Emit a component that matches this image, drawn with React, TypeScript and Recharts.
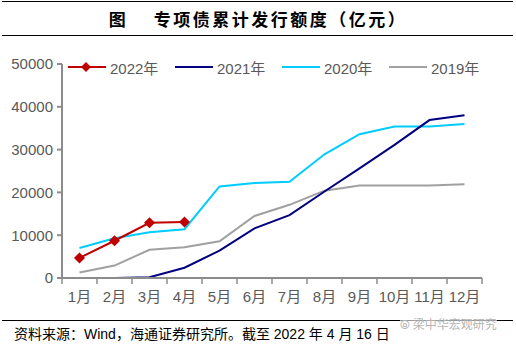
import React from 'react';
import { LineChart, Line, XAxis, YAxis } from 'recharts';

// 累计发行额度（亿元）
const months = ['1月', '2月', '3月', '4月', '5月', '6月', '7月', '8月', '9月', '10月', '11月', '12月'];
const y2022 = [4700, 8700, 12900, 13100, null, null, null, null, null, null, null, null];
const y2021 = [0, 0, 200, 2400, 6400, 11600, 14700, 20200, 25600, 31100, 36900, 38000];
const y2020 = [7000, 9300, 10700, 11400, 21400, 22200, 22500, 28900, 33600, 35400, 35400, 36000];
const y2019 = [1300, 2900, 6600, 7200, 8600, 14500, 17100, 20400, 21600, 21600, 21600, 21900];
const yTicks = [0, 10000, 20000, 30000, 40000, 50000];

const data = months.map((m, i) => ({
    month: m,
    y2022: y2022[i],
    y2021: y2021[i],
    y2020: y2020[i],
    y2019: y2019[i],
}));

const series = [
    { key: 'y2022', name: '2022年', color: '#C00000', marker: true },
    { key: 'y2021', name: '2021年', color: '#000080', marker: false },
    { key: 'y2020', name: '2020年', color: '#00CCFF', marker: false },
    { key: 'y2019', name: '2019年', color: '#A0A0A0', marker: false },
];

const AXIS = '#8c8c8c';
const LABEL = '#595959';
const FONT = '"Liberation Sans", Arial, "Noto Sans CJK SC", sans-serif';
const PLOT_BOTTOM = 278;
const BAND = 35;

const Diamond = (props: any) => {
    const { cx, cy, fill } = props;
    if (cx == null || cy == null || props.value == null) return null;
    const r = 5.5;
    return <polygon points={`${cx},${cy - r} ${cx + r},${cy} ${cx},${cy + r} ${cx - r},${cy}`} fill={fill} />;
};

const MonthTick = (props: any) => {
    const { x, payload, index } = props;
    const half = BAND / 2;
    return (
        <g>
            <line x1={x - half} x2={x - half} y1={PLOT_BOTTOM} y2={PLOT_BOTTOM + 6} stroke={AXIS} strokeWidth={1.5} />
            {index === months.length - 1 && (
                <line x1={x + half} x2={x + half} y1={PLOT_BOTTOM} y2={PLOT_BOTTOM + 6} stroke={AXIS} strokeWidth={1.5} />
            )}
            <text x={x} y={PLOT_BOTTOM + 24} textAnchor="middle" fill={LABEL} fontSize={15} fontFamily={FONT}>
                {payload.value}
            </text>
        </g>
    );
};

function LegendRow() {
    return (
        <div style={{ position: 'absolute', left: 68, top: 58, display: 'flex', fontFamily: FONT, fontSize: 15, color: LABEL }}>
            {series.map((s) => (
                <div key={s.key} style={{ display: 'flex', alignItems: 'center', width: 107, height: 18 }}>
                    <svg width={38} height={14} style={{ marginRight: 4 }}>
                        <line x1={0} x2={38} y1={7} y2={7} stroke={s.color} strokeWidth={2} />
                        {s.marker && <polygon points="18,2 23,7 18,12 13,7" fill={s.color} />}
                    </svg>
                    <span>{s.name}</span>
                </div>
            ))}
        </div>
    );
}

export default function App() {
    return (
        <div style={{ position: 'absolute', left: 0, top: 0, width: 516, height: 349, background: '#fff', overflow: 'hidden' }}>
            {/* title block */}
            <div style={{ position: 'absolute', left: 2, top: 1, width: 511, borderTop: '1.5px solid #000' }} />
            <div style={{ position: 'absolute', left: 0, top: 6, width: 516, textAlign: 'center', fontFamily: '"Noto Sans CJK SC", sans-serif', fontWeight: 700, fontSize: 17, letterSpacing: 2.5, color: '#000' }}>
                图&nbsp;&nbsp;&nbsp;&nbsp;专项债累计发行额度（亿元）
            </div>
            <div style={{ position: 'absolute', left: 2, top: 35, width: 511, borderTop: '1.5px solid #000' }} />

            <div style={{ position: 'absolute', left: 0, top: 0 }}>
                <LineChart width={516} height={349} data={data} margin={{ top: 64, right: 34, left: 8, bottom: 41 }}>
                    <XAxis
                        dataKey="month"
                        scale="band"
                        interval={0}
                        stroke={AXIS}
                        strokeWidth={2}
                        tickLine={false}
                        tick={<MonthTick />}
                        height={30}
                    />
                    <YAxis
                        domain={[0, 50000]}
                        ticks={yTicks}
                        width={54}
                        stroke={AXIS}
                        strokeWidth={2}
                        tickSize={5}
                        tickMargin={4}
                        tick={{ fill: LABEL, fontSize: 15, fontFamily: FONT }}
                    />
                    {series.slice().reverse().map((s) => (
                        <Line
                            key={s.key}
                            dataKey={s.key}
                            name={s.name}
                            stroke={s.color}
                            strokeWidth={2}
                            dot={s.marker ? <Diamond fill={s.color} /> : false}
                            activeDot={false}
                            isAnimationActive={false}
                            connectNulls={false}
                        />
                    ))}
                </LineChart>
            </div>

            <LegendRow />

            {/* source line */}
            <div style={{ position: 'absolute', left: 2, top: 320, width: 511, borderTop: '1px solid #000' }} />
            <div style={{ position: 'absolute', left: 14, top: 323, fontFamily: FONT, fontSize: 14, color: '#000', whiteSpace: 'nowrap' }}>
                资料来源：Wind，海通证券研究所。截至 2022 年 4 月 16 日
            </div>
            <div style={{ position: 'absolute', left: 400, top: 315, fontFamily: '"Noto Sans CJK SC", sans-serif', fontSize: 12, color: '#b4b4b4', whiteSpace: 'nowrap', background: 'rgba(255,255,255,0.6)' }}>
                ⦾ 梁中华宏观研究
            </div>
        </div>
    );
}
